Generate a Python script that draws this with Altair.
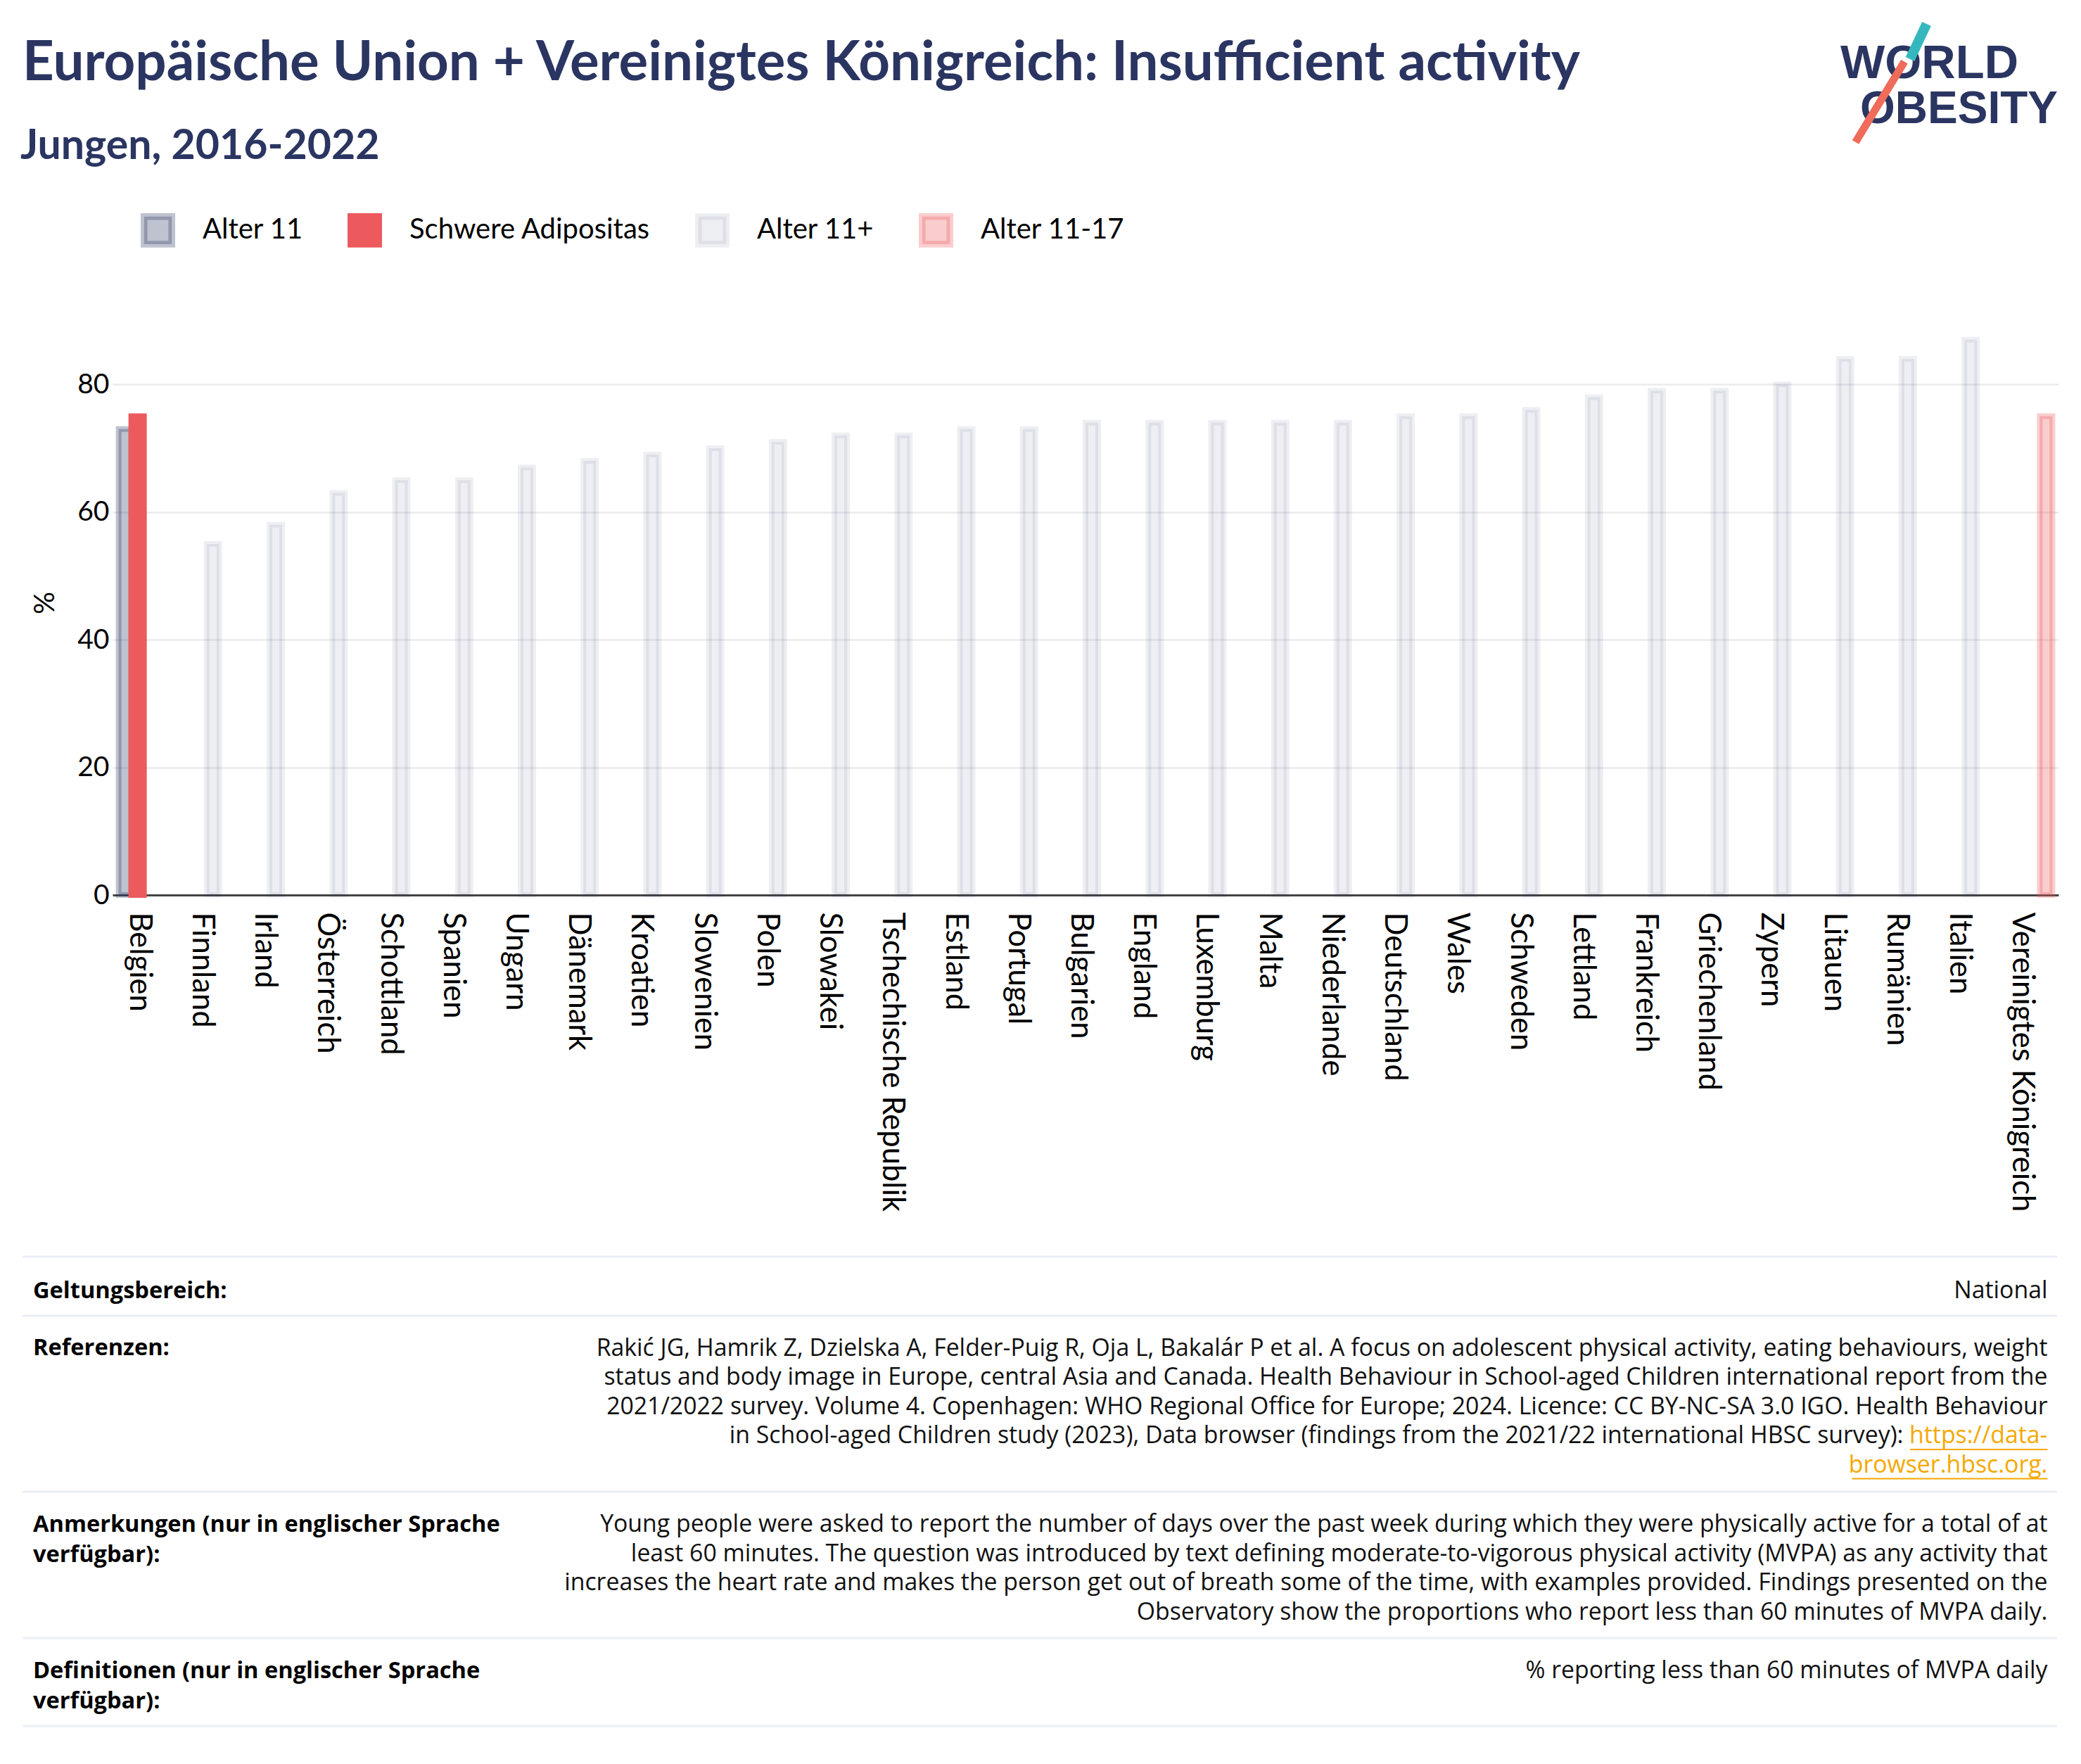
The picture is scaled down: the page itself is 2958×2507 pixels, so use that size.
import altair as alt
import pandas as pd

# ---------------- data ----------------
countries = ["Belgien", "Finnland", "Irland", "Österreich", "Schottland", "Spanien", "Ungarn",
             "Dänemark", "Kroatien", "Slowenien", "Polen", "Slowakei", "Tschechische Republik",
             "Estland", "Portugal", "Bulgarien", "England", "Luxemburg", "Malta", "Niederlande",
             "Deutschland", "Wales", "Schweden", "Lettland", "Frankreich", "Griechenland", "Zypern",
             "Litauen", "Rumänien", "Italien", "Vereinigtes Königreich"]
series_names = ["Alter 11", "Schwere Adipositas", "Alter 11+", "Alter 11-17"]

alter11_countries = ["Belgien"]
alter11_values = [73]
adipositas_countries = ["Belgien"]
adipositas_values = [75]
alter11plus_countries = countries[1:30]
alter11plus_values = [55, 58, 63, 65, 65, 67, 68, 69, 70, 71, 72, 72, 73, 73, 74, 74, 74, 74, 74,
                      75, 75, 76, 78, 79, 79, 80, 84, 84, 87]
alter1117_countries = ["Vereinigtes Königreich"]
alter1117_values = [75]

y_ticks = [0, 20, 40, 60, 80]

rows = []
for name, cs, vs in [("Alter 11", alter11_countries, alter11_values),
                     ("Schwere Adipositas", adipositas_countries, adipositas_values),
                     ("Alter 11+", alter11plus_countries, alter11plus_values),
                     ("Alter 11-17", alter1117_countries, alter1117_values)]:
    for c, v in zip(cs, vs):
        rows.append({"country": c, "series": name, "value": v})
df = pd.DataFrame(rows)

# ---------------- style ----------------
NAVY = "#2a3561"
FONT = "Lato"
FOOT = "Open Sans"
fills = ["rgba(42,53,97,0.3)", "#ec5a5e", "rgba(42,53,97,0.08)", "rgba(235,90,94,0.3)"]
strokes = ["rgba(42,53,97,0.3)", "#ec5a5e", "rgba(42,53,97,0.08)", "rgba(235,90,94,0.3)"]

W, H = 2766, 831

legend = alt.Legend(orient="none", legendX=40, legendY=-138.5, direction="horizontal",
                    title=None, symbolType="square", symbolSize=1560, symbolStrokeWidth=9.5,
                    labelFontSize=40, labelFont=FONT, labelColor="black", labelOffset=39,
                    columnPadding=48, padding=0, labelLimit=1000)

bars = alt.Chart(df).mark_bar(strokeWidth=8).encode(
    x=alt.X("country:N", sort=countries,
            scale=alt.Scale(domain=countries, paddingInner=0.193, paddingOuter=0.0965),
            axis=alt.Axis(title=None, labelAngle=90, labelFontSize=43.5, labelFont=FONT,
                          labelColor="black", labelPadding=24, labelOffset=-7, ticks=False,
                          tickSize=0, domainColor="#444444", domainWidth=3, grid=False,
                          labelLimit=1000)),
    xOffset=alt.XOffset("series:N", scale=alt.Scale(domain=series_names, paddingInner=0,
                                                    paddingOuter=0)),
    y=alt.Y("value:Q", scale=alt.Scale(domain=[0, 91.6], nice=False),
            axis=alt.Axis(values=y_ticks, title="%", titleFontSize=40, titleFont=FONT,
                          titleFontWeight="normal", titleColor="black", titleX=-96,
                          titleY=H / 2, titleAngle=270, titleBaseline="middle",
                          titleAlign="center", labelFontSize=39, labelFont=FONT,
                          labelColor="black", labelPadding=5, ticks=False, tickSize=0,
                          domain=False, grid=True, gridColor="#ebebee", gridWidth=2.5)),
    fill=alt.Fill("series:N", scale=alt.Scale(domain=series_names, range=fills), legend=legend),
    stroke=alt.Stroke("series:N", scale=alt.Scale(domain=series_names, range=strokes),
                      legend=legend),
)

ONE = alt.Data(values=[{"k": 0}])


def txt(text, x, y, size, weight="normal", color="black", align="left", font=FONT, lh=None):
    kw = dict(text=text, align=align, baseline="alphabetic", fontSize=size,
              fontWeight=weight, font=font, color=color)
    if lh is not None:
        kw["lineHeight"] = lh
    return alt.Chart(ONE).mark_text(**kw).encode(x=alt.value(x), y=alt.value(y))


def seg(x, y, x2, y2, color, width):
    return alt.Chart(ONE).mark_rule(color=color, strokeWidth=width, strokeCap="butt").encode(
        x=alt.value(x), y=alt.value(y), x2=alt.value(x2), y2=alt.value(y2))


title_text = "Europäische Union + Vereinigtes Königreich: Insufficient activity"
subtitle_text = "Jungen, 2016-2022"

layers = [
    txt(title_text, -128, -327, 78, "bold", NAVY),
    txt(subtitle_text, -131, -215, 59, "bold", NAVY),
    # logo
    txt("WORLD", 2456, -330, 67, "bold", NAVY, font="Liberation Sans"),
    txt("OBESITY", 2484, -266, 64, "bold", NAVY, font="Liberation Sans"),
    seg(2578.5, -407, 2555, -357, "#35b8bd", 14),
    seg(2547, -353.3, 2477.5, -239, "#ef6b5a", 11),
]

# footer table
SEP = "#e9eef6"
for yy in [1345, 1429, 1679, 1887, 2012]:
    layers.append(seg(-128, yy, 2764, yy, SEP, 3))

RX = 2750.5
LX = -113
FS = 33.8
FB = 32.6
layers += [
    txt("Geltungsbereich:", LX, 1404, FB, "bold", font=FOOT),
    txt("National", RX, 1404, FS, align="right", color="#111111", font=FOOT),
    txt("Referenzen:", LX, 1485, FB, "bold", font=FOOT),
    txt(["Anmerkungen (nur in englischer Sprache", "verfügbar):"], LX, 1736, FB, "bold",
        font=FOOT, lh=42.5),
    txt(["Definitionen (nur in englischer Sprache", "verfügbar):"], LX, 1944, FB, "bold",
        font=FOOT, lh=42.5),
    txt("% reporting less than 60 minutes of MVPA daily", RX, 1944, FS, align="right",
        color="#111111", font=FOOT),
]

ref_lines = [
    "Rakić JG, Hamrik Z, Dzielska A, Felder-Puig R, Oja L, Bakalár P et al. A focus on adolescent physical activity, eating behaviours, weight",
    "status and body image in Europe, central Asia and Canada. Health Behaviour in School-aged Children international report from the",
    "2021/2022 survey. Volume 4. Copenhagen: WHO Regional Office for Europe; 2024. Licence: CC BY-NC-SA 3.0 IGO. Health Behaviour",
]
ref_line4 = "in School-aged Children study (2023), Data browser (findings from the 2021/22 international HBSC survey):"
link_tail = "https://data-"
link_last = "browser.hbsc.org."
ORANGE = "#f5a800"
LH = 41.4
layers.append(txt(ref_lines, RX, 1486, FS, align="right", color="#111111", font=FOOT, lh=LH))
y4 = 1486 + 3 * LH
layers.append(txt(ref_line4, RX - 205, y4, FS, align="right", color="#111111", font=FOOT))
layers.append(txt(link_tail, RX, y4, FS, align="right", color=ORANGE, font=FOOT))
layers.append(txt(link_last, RX, 1486 + 4 * LH, FS, align="right", color=ORANGE, font=FOOT))
layers.append(seg(2555, 1619, RX, 1619, ORANGE, 2))
layers.append(seg(2472.5, 1660.6, RX, 1660.6, ORANGE, 2))

notes_lines = [
    "Young people were asked to report the number of days over the past week during which they were physically active for a total of at",
    "least 60 minutes. The question was introduced by text defining moderate-to-vigorous physical activity (MVPA) as any activity that",
    "increases the heart rate and makes the person get out of breath some of the time, with examples provided. Findings presented on the",
    "Observatory show the proportions who report less than 60 minutes of MVPA daily.",
]
layers.append(txt(notes_lines, RX, 1736, FS, align="right", color="#111111", font=FOOT, lh=41.7))

chart = alt.layer(bars, *layers).properties(
    width=W, height=H,
    autosize=alt.AutoSizeParams(type="none"),
    padding={"left": 152, "top": 433, "right": 24, "bottom": 1220},
    background="white",
).configure_view(stroke=None)

chart.save("out.html", embed_options={"renderer": "svg", "actions": False})
